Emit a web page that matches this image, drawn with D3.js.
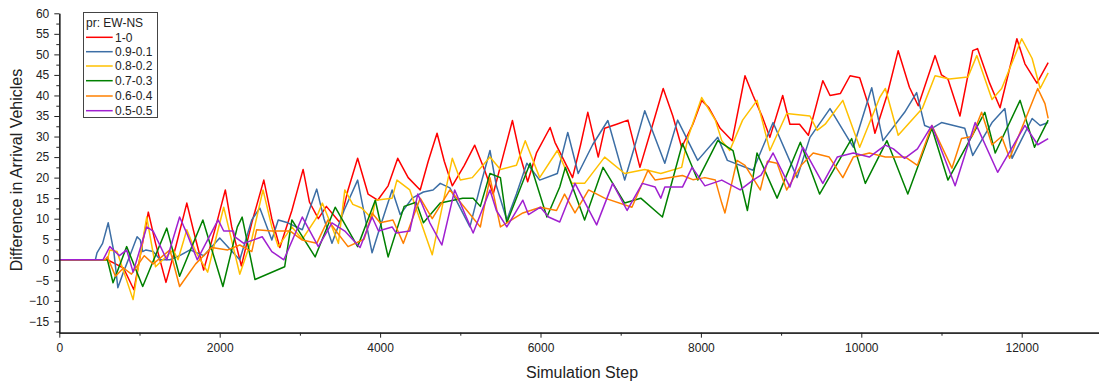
<!DOCTYPE html>
<meta charset="utf-8">
<script src="https://d3js.org/d3.v7.min.js"></script>
<style>
  body { margin: 0; background: #fff; }
  text { font-family: "Liberation Sans", Arial, sans-serif; fill: #222; }
</style>
<div id="chart"></div>
<script>

// legend labels and colours
var seriesNames = ["1-0", "0.9-0.1", "0.8-0.2", "0.7-0.3", "0.6-0.4", "0.5-0.5"];
var seriesColors = ["#ff0000", "#3c6ea5", "#ffc000", "#008000", "#ff8000", "#a020d0"];

// [simulation step, difference]
var s10 = [[0,0],[600,0],[700,-1],[800,-2],[930,-7.3],[1000,0],[1110,11.6],[1200,4],[1330,-5.5],[1450,3],[1590,13.8],[1700,5],[1800,-2.5],[1950,8],[2070,17],[2150,8],[2270,-1.5],[2400,9],[2550,19.4],[2650,10],[2750,3],[2900,12],[3040,22],[3120,14],[3230,10],[3330,13],[3500,9],[3600,17],[3720,24.7],[3850,16],[3970,14.5],[4100,18],[4220,24.7],[4350,20],[4500,17],[4600,24],[4710,30.8],[4800,24],[4900,18],[5050,23],[5180,27.9],[5300,22],[5410,16],[5530,25],[5650,33.9],[5750,25],[5840,19],[5950,26],[6120,32.2],[6180,28.6],[6400,20],[6500,28],[6590,35.9],[6720,25],[6800,32],[6950,33],[7090,34],[7240,22.5],[7400,33],[7530,41.7],[7650,35],[7760,27.4],[7900,33],[8010,38.8],[8100,37],[8240,32],[8390,29],[8550,44.8],[8650,40],[8770,34.6],[8860,29.8],[9020,40],[9110,33],[9230,33],[9340,30.3],[9520,43.6],[9610,40],[9740,40.5],[9860,44.8],[9980,44.3],[10100,37],[10170,30.8],[10320,40],[10460,50.9],[10600,42],[10710,37.5],[10920,49.7],[11000,45],[11080,44],[11230,35],[11390,50.9],[11450,51.4],[11600,43],[11730,37],[11940,53.8],[12040,47.7],[12190,43],[12330,48]];

var s91 = [[0,0],[450,0],[470,1.7],[540,4],[610,9],[680,2],[730,-6.8],[800,-3],[900,2],[970,5.6],[1010,4.8],[1040,2],[1080,2.4],[1170,2],[1260,0],[1380,0],[1500,1],[1630,2.4],[1800,1],[2000,5.3],[2250,0],[2400,9.7],[2500,12.6],[2650,4.8],[2730,9.7],[2850,9],[3030,7.3],[3210,17.2],[3300,10],[3400,4],[3550,12],[3720,19.4],[3900,1.7],[4000,8],[4150,17],[4250,11],[4400,15],[4540,16.5],[4660,17],[4750,18.6],[4870,17.5],[5120,8],[5250,18],[5370,26.6],[5450,18],[5580,9.7],[5700,16],[5830,23.5],[5990,19.4],[6210,21],[6340,31],[6470,21],[6650,28],[6840,33.9],[7050,19.4],[7180,28],[7300,36.3],[7550,23.5],[7710,34],[7960,24.2],[8210,29.8],[8330,24.2],[8650,21.8],[8900,33.4],[9200,20],[9360,29.8],[9610,36.8],[9900,27.4],[10130,41.9],[10270,29],[10540,35.9],[10690,40.7],[10790,32.7],[10880,32],[11000,33.4],[11290,32],[11390,25.4],[11630,33.4],[11790,36.8],[11880,24.7],[12130,34.4],[12230,32.7],[12330,33.4]];

var s82 = [[0,0],[600,0],[630,2.4],[720,2],[920,-9.7],[1000,0],[1090,10.4],[1200,-1.7],[1420,2.4],[1480,0],[1590,7.3],[1700,2],[1850,-3],[1950,5],[2050,12.8],[2250,-3.5],[2400,5],[2540,17],[2650,8],[2730,3.2],[2900,8],[3030,5],[3200,10],[3280,13.8],[3400,8],[3480,4],[3560,17],[3660,13.5],[3770,12.6],[3900,10],[3940,14.5],[4150,15],[4210,19.4],[4370,17],[4650,1.2],[4900,24.7],[5000,19.4],[5150,20],[5370,25],[5500,22],[5700,23],[5810,29],[5990,20],[6210,26.6],[6390,18.6],[6550,18.6],[6800,25],[7050,21],[7300,22],[7500,21],[7760,22.5],[7840,29.8],[8010,39.5],[8180,34],[8260,29],[8360,26.6],[8520,34],[8700,38.8],[8860,26.6],[9070,35.6],[9360,35],[9450,31.5],[9550,33],[9770,38.8],[9980,27.4],[10230,39.5],[10300,41.7],[10460,30.3],[10760,36.8],[10920,44.8],[11100,44],[11330,44.5],[11440,49.7],[11630,39],[11750,41.7],[12000,53.8],[12130,49],[12230,41.7],[12330,45.5]];

var s73 = [[0,0],[600,0],[670,-5.6],[840,3.2],[1040,-6.5],[1340,7.7],[1500,-4],[1790,9.7],[2040,-6.5],[2220,8],[2280,10.4],[2440,-4.8],[2810,-1.7],[2900,9.7],[3190,0.7],[3440,12.8],[3720,3.2],[3940,14.5],[4100,0.7],[4300,13],[4450,14],[4540,9],[4750,13.8],[5030,15],[5160,15],[5250,13],[5370,21],[5500,20],[5580,9],[5870,23.5],[6080,10.4],[6240,17.7],[6310,22.5],[6550,9.7],[6780,22.5],[7050,13.8],[7250,15],[7520,10.4],[7770,28.3],[7960,19.4],[8210,29],[8400,26.6],[8580,12],[8700,26],[8950,15],[9240,28.6],[9480,16],[9880,29.5],[10050,18.6],[10320,29],[10580,16],[10880,32],[11080,19.4],[11540,35.9],[11670,26],[11980,38.8],[12160,27.4],[12330,34]];

var s64 = [[0,0],[570,0],[600,0.7],[700,-4],[800,-2],[900,-3.5],[1060,1],[1170,-1],[1380,2.4],[1500,-6.5],[1700,-1],[1900,3],[2100,2.4],[2250,3.6],[2400,2],[2460,7.3],[2650,7],[2880,7],[3030,4.8],[3210,4],[3350,9.7],[3450,7],[3600,3.2],[3800,5],[3900,11.4],[4000,9],[4160,9.7],[4290,4],[4500,15],[4650,10],[4870,17],[5000,14],[5250,8],[5370,20],[5500,8],[5780,11.4],[6000,12.8],[6200,12],[6300,16],[6430,11.4],[6600,17],[6800,15],[7140,12.8],[7340,21.8],[7430,19.4],[7770,20.5],[7900,19.5],[8050,20],[8180,19.4],[8260,13.8],[8300,11.4],[8450,24.2],[8550,23],[8740,17],[8830,24],[8950,23.5],[9070,17],[9250,23],[9400,26],[9600,25],[9770,20],[9900,25],[10100,26],[10300,25],[10550,25],[10700,23],[10880,32.7],[11130,22.3],[11250,29.5],[11380,30],[11500,35.9],[11630,28],[11750,30],[11850,24.7],[12200,41.7],[12290,38],[12330,34.4]];

var s55 = [[0,0],[545,0],[630,3.2],[750,1],[840,2.4],[920,-3],[1090,8],[1170,7],[1340,0],[1500,10.4],[1600,6],[1720,0],[1980,9.7],[2050,7],[2170,7],[2190,5.6],[2300,4],[2530,5.6],[2650,2],[2800,0],[3030,10.4],[3230,3.2],[3400,9],[3560,7],[3750,3],[3900,10.4],[3980,7],[4150,8],[4200,6.5],[4370,7],[4470,16],[4620,9],[4770,3.6],[4930,17],[5160,6.5],[5370,17],[5450,12],[5580,8],[5780,14.5],[5850,11],[6000,12.8],[6100,10.4],[6240,9.2],[6430,18.6],[6700,8.5],[6900,18.6],[7080,12],[7270,18.6],[7430,17.7],[7500,15],[7550,17.7],[7770,17.7],[7890,22.5],[8050,18],[8260,19.4],[8490,17],[8650,19.4],[8750,20.6],[8900,26],[9110,17.7],[9270,27.4],[9520,18.6],[9700,25],[9900,26],[10100,25],[10300,27.9],[10400,27],[10540,24.7],[10700,27],[10880,32.7],[11170,18],[11420,33.4],[11700,21.3],[11900,28],[12040,32.7],[12200,28],[12330,29.5]];

var allSeries = [s10, s91, s82, s73, s64, s55];

// axis ticks
var xMajor = [0, 2000, 4000, 6000, 8000, 10000, 12000];
var xMinor = [1000, 3000, 5000, 7000, 9000, 11000];
var yMajor = [-15, -10, -5, 0, 5, 10, 15, 20, 25, 30, 35, 40, 45, 50, 55, 60];
var yMinor = [-17.5, -12.5, -7.5, -2.5, 2.5, 7.5, 12.5, 17.5, 22.5, 27.5, 32.5, 37.5, 42.5, 47.5, 52.5, 57.5];

var W = 1099, H = 386;
var svg = d3.select("#chart").append("svg")
    .attr("width", W)
    .attr("height", H);

var x = d3.scaleLinear().domain([0, 13000]).range([59.3, 1101.9]);
var y = d3.scaleLinear().domain([-17.75, 60]).range([332.7, 13.3]);

// lines
var line = d3.line()
    .x(function(d) { return x(d[0]); })
    .y(function(d) { return y(d[1]); });

svg.append("g").selectAll("path")
  .data(allSeries)
  .enter().append("path")
    .attr("d", line)
    .attr("fill", "none")
    .attr("stroke", function(d, i) { return seriesColors[i]; })
    .attr("stroke-width", 1.5)
    .attr("stroke-linejoin", "round");

// axes
svg.append("g")
    .attr("transform", "translate(0," + y(-17.75) + ")")
    .call(d3.axisBottom(x).tickValues(xMajor).tickSize(5).tickPadding(6)
          .tickFormat(d3.format("d")).tickSizeOuter(0));
svg.append("g")
    .attr("transform", "translate(0," + y(-17.75) + ")")
    .call(d3.axisBottom(x).tickValues(xMinor).tickSize(3).tickFormat("").tickSizeOuter(0));

svg.append("g")
    .attr("transform", "translate(" + x(0) + ",0)")
    .call(d3.axisLeft(y).tickValues(yMajor).tickSize(5).tickPadding(5).tickSizeOuter(0));
svg.append("g")
    .attr("transform", "translate(" + x(0) + ",0)")
    .call(d3.axisLeft(y).tickValues(yMinor).tickSize(3).tickFormat("").tickSizeOuter(0));

svg.selectAll(".domain").attr("stroke", "#222").attr("stroke-width", 1.2);
svg.selectAll(".tick line").attr("stroke", "#222").attr("stroke-width", 1);
svg.selectAll(".tick text")
    .style("font-family", "'Liberation Sans', Arial, sans-serif")
    .style("font-size", "12px")
    .attr("fill", "#222");

// axis titles
svg.append("text")
    .attr("x", 582)
    .attr("y", 378)
    .attr("text-anchor", "middle")
    .style("font-size", "16px")
    .text("Simulation Step");

svg.append("text")
    .attr("transform", "translate(21.5,170) rotate(-90)")
    .attr("text-anchor", "middle")
    .style("font-size", "16px")
    .text("Difference in Arrival Vehicles");

// legend
var lg = svg.append("g");
lg.append("rect")
    .attr("x", 83.5).attr("y", 12.5)
    .attr("width", 74).attr("height", 105)
    .attr("fill", "#fff")
    .attr("stroke", "#444")
    .attr("stroke-width", 1);
lg.append("text")
    .attr("x", 86).attr("y", 26.5)
    .style("font-size", "12px")
    .text("pr: EW-NS");

var rowY = [37.3, 51.7, 66, 80.7, 96, 110.7];
seriesNames.forEach(function(name, i) {
  lg.append("line")
      .attr("x1", 86).attr("x2", 112.7)
      .attr("y1", rowY[i]).attr("y2", rowY[i])
      .attr("stroke", seriesColors[i])
      .attr("stroke-width", 1.5);
  lg.append("text")
      .attr("x", 115).attr("y", rowY[i] + 4.3)
      .style("font-size", "12px")
      .text(name);
});

</script>
